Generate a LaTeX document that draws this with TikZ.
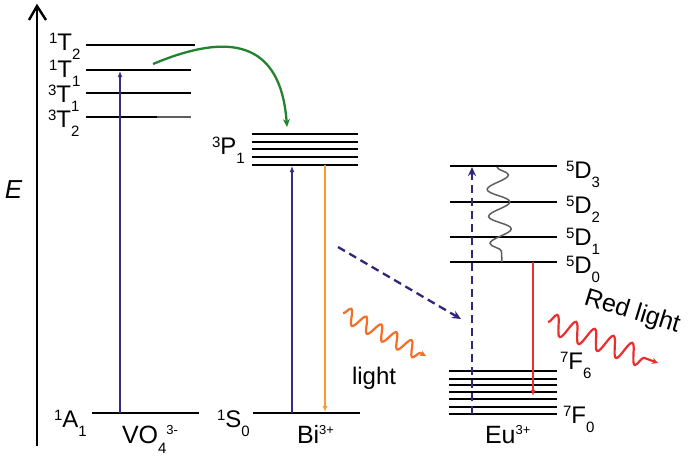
\documentclass[tikz,border=0pt]{standalone}
\usepackage{fontspec}
\setmainfont{Liberation Sans}
\usetikzlibrary{arrows.meta,decorations.pathmorphing}
\definecolor{purp}{RGB}{60,42,130}
\definecolor{navy}{RGB}{52,36,125}
\definecolor{grn}{RGB}{35,130,45}
\definecolor{orng}{RGB}{250,155,45}
\definecolor{worng}{RGB}{245,110,40}
\definecolor{rd}{RGB}{235,45,45}
\definecolor{wgray}{RGB}{95,95,95}
\newcommand\lvl[3]{\raisebox{7pt}{\fontsize{15}{15}\selectfont #1}{\fontsize{24}{24}\selectfont #2}\raisebox{-9pt}{\fontsize{15}{15}\selectfont #3}}
\newcommand\ion[3]{{\fontsize{25}{25}\selectfont #1}\raisebox{-10pt}{\fontsize{15}{15}\selectfont #2}\raisebox{9pt}{\fontsize{13}{13}\selectfont #3}}
\begin{document}
\begin{tikzpicture}[x=1pt,y=-1pt,
  lev/.style={line width=2.8pt, black},
  lbl/.style={anchor=base west, inner sep=0pt, outer sep=0pt},
  tran/.style={line width=2pt, -{Latex[length=6pt,width=5pt]}},
  dsh/.style={line width=2.3pt, navy, dash pattern=on 8pt off 5pt, -{Stealth[length=9pt,width=8pt]}},
  wave/.style={line width=2.2pt, decorate, -{Stealth[length=6pt,width=6pt]}}]
\useasboundingbox (0,0) rectangle (700,459);

% energy axis
\coordinate (axb) at (37,446);
\coordinate (axt) at (37,6);
\coordinate (axl) at (29,20);
\coordinate (axr) at (46,20);
\draw[line width=2.4pt] (axb) -- (axt);
\draw[line width=2.4pt, line join=miter] (axl) -- (axt) -- (axr);
\node[lbl] (E) at (5,198) {\fontsize{26}{26}\selectfont\itshape E};

% VO4 levels
\coordinate (t2a) at (86,45);  \coordinate (t2b) at (195,45);
\coordinate (t1a) at (86,70);  \coordinate (t1b) at (191,70);
\coordinate (u1a) at (86,93);  \coordinate (u1b) at (191,93);
\coordinate (u2a) at (86,117); \coordinate (u2m) at (157,117); \coordinate (u2b) at (191,117);
\coordinate (a1a) at (92,413); \coordinate (a1b) at (199,413);
\draw[lev] (t2a) -- (t2b);
\draw[lev] (t1a) -- (t1b);
\draw[lev] (u1a) -- (u1b);
\draw[lev] (u2a) -- (u2m);
\draw[line width=1.4pt, wgray] (u2m) -- (u2b);
\draw[lev] (a1a) -- (a1b);
\node[lbl] (L1) at (49,50)  {\lvl{1}{T}{2}};
\node[lbl] (L2) at (49,77)  {\lvl{1}{T}{1}};
\node[lbl] (L3) at (48,102) {\lvl{3}{T}{1}};
\node[lbl] (L4) at (48,127) {\lvl{3}{T}{2}};
\node[lbl] (L5) at (54,427) {\lvl{1}{A}{1}};
\node[lbl] (VO) at (122,443) {\ion{VO}{4}{3-}};

% Bi levels
\foreach \y [count=\i] in {134,142,149,157,165}{
  \coordinate (pa\i) at (252,\y); \coordinate (pb\i) at (358,\y);
  \draw[lev] (pa\i) -- (pb\i);
}
\coordinate (sa) at (253,413); \coordinate (sb) at (360,413);
\draw[lev] (sa) -- (sb);
\node[lbl] (L6) at (212,154) {\lvl{3}{P}{1}};
\node[lbl] (L7) at (217,427) {\lvl{1}{S}{0}};
\node[lbl] (Bi) at (297,443) {\ion{Bi}{}{3+}};

% Eu levels
\foreach \y/\n in {166/3,202/2,237/1,262/0}{
  \coordinate (da\n) at (450,\y); \coordinate (db\n) at (557,\y);
  \draw[lev] (da\n) -- (db\n);
}
\foreach \y [count=\i] in {371,379,385,392,399,407,414}{
  \coordinate (fa\i) at (449,\y); \coordinate (fb\i) at (557,\y);
  \draw[lev] (fa\i) -- (fb\i);
}
\node[lbl] (D3) at (566,178) {\lvl{5}{D}{3}};
\node[lbl] (D2) at (566,213) {\lvl{5}{D}{2}};
\node[lbl] (D1) at (566,245) {\lvl{5}{D}{1}};
\node[lbl] (D0) at (566,273) {\lvl{5}{D}{0}};
\node[lbl] (F6) at (560,369) {\lvl{7}{F}{6}};
\node[lbl] (F0) at (563,423) {\lvl{7}{F}{0}};
\node[lbl] (Eu) at (485,443) {\ion{Eu}{}{3+}};

% transitions
\coordinate (v0) at (120,413); \coordinate (v1) at (120,71);
\draw[tran, purp] (v0) -- (v1);
\coordinate (b0) at (292,413); \coordinate (b1) at (292,166);
\draw[tran, purp] (b0) -- (b1);
\coordinate (o0) at (325,165); \coordinate (o1) at (325,412);
\draw[tran, orng] (o0) -- (o1);
\coordinate (g0) at (153,64); \coordinate (g1) at (287,127);
\draw[line width=2.3pt, grn, -{Stealth[length=8pt,width=7pt]}] (g0) .. controls (215,38) and (280,30) .. (g1);
\coordinate (e0) at (472,414); \coordinate (e1) at (472,167);
\draw[dsh] (e0) -- (e1);
\coordinate (q0) at (338,247); \coordinate (q1) at (461,319);
\draw[dsh] (q0) -- (q1);
\coordinate (w0) at (497,167); \coordinate (w1) at (502,262);
\draw[line width=1.5pt, wgray, decorate, decoration={snake, amplitude=11pt, segment length=27pt}] (w0) -- (w1);
\coordinate (r0) at (533,262); \coordinate (r1) at (533,396);
\draw[tran, rd] (r0) -- (r1);

% emitted light
\coordinate (ow0) at (343,313); \coordinate (ow1) at (426,356);
\draw[wave, worng, decoration={snake, amplitude=7.5pt, segment length=17pt, post length=6pt}] (ow0) -- (ow1);
\node[lbl] (lt) at (352,384) {\fontsize{24}{24}\selectfont light};
\coordinate (rw0) at (548,322); \coordinate (rw1) at (658,363);
\draw[wave, rd, decoration={snake, amplitude=10pt, segment length=20pt, post length=6pt}] (rw0) -- (rw1);
\node[lbl, rotate=-17] (rl) at (583,304) {\fontsize{25}{25}\selectfont Red light};
\end{tikzpicture}
\end{document}
